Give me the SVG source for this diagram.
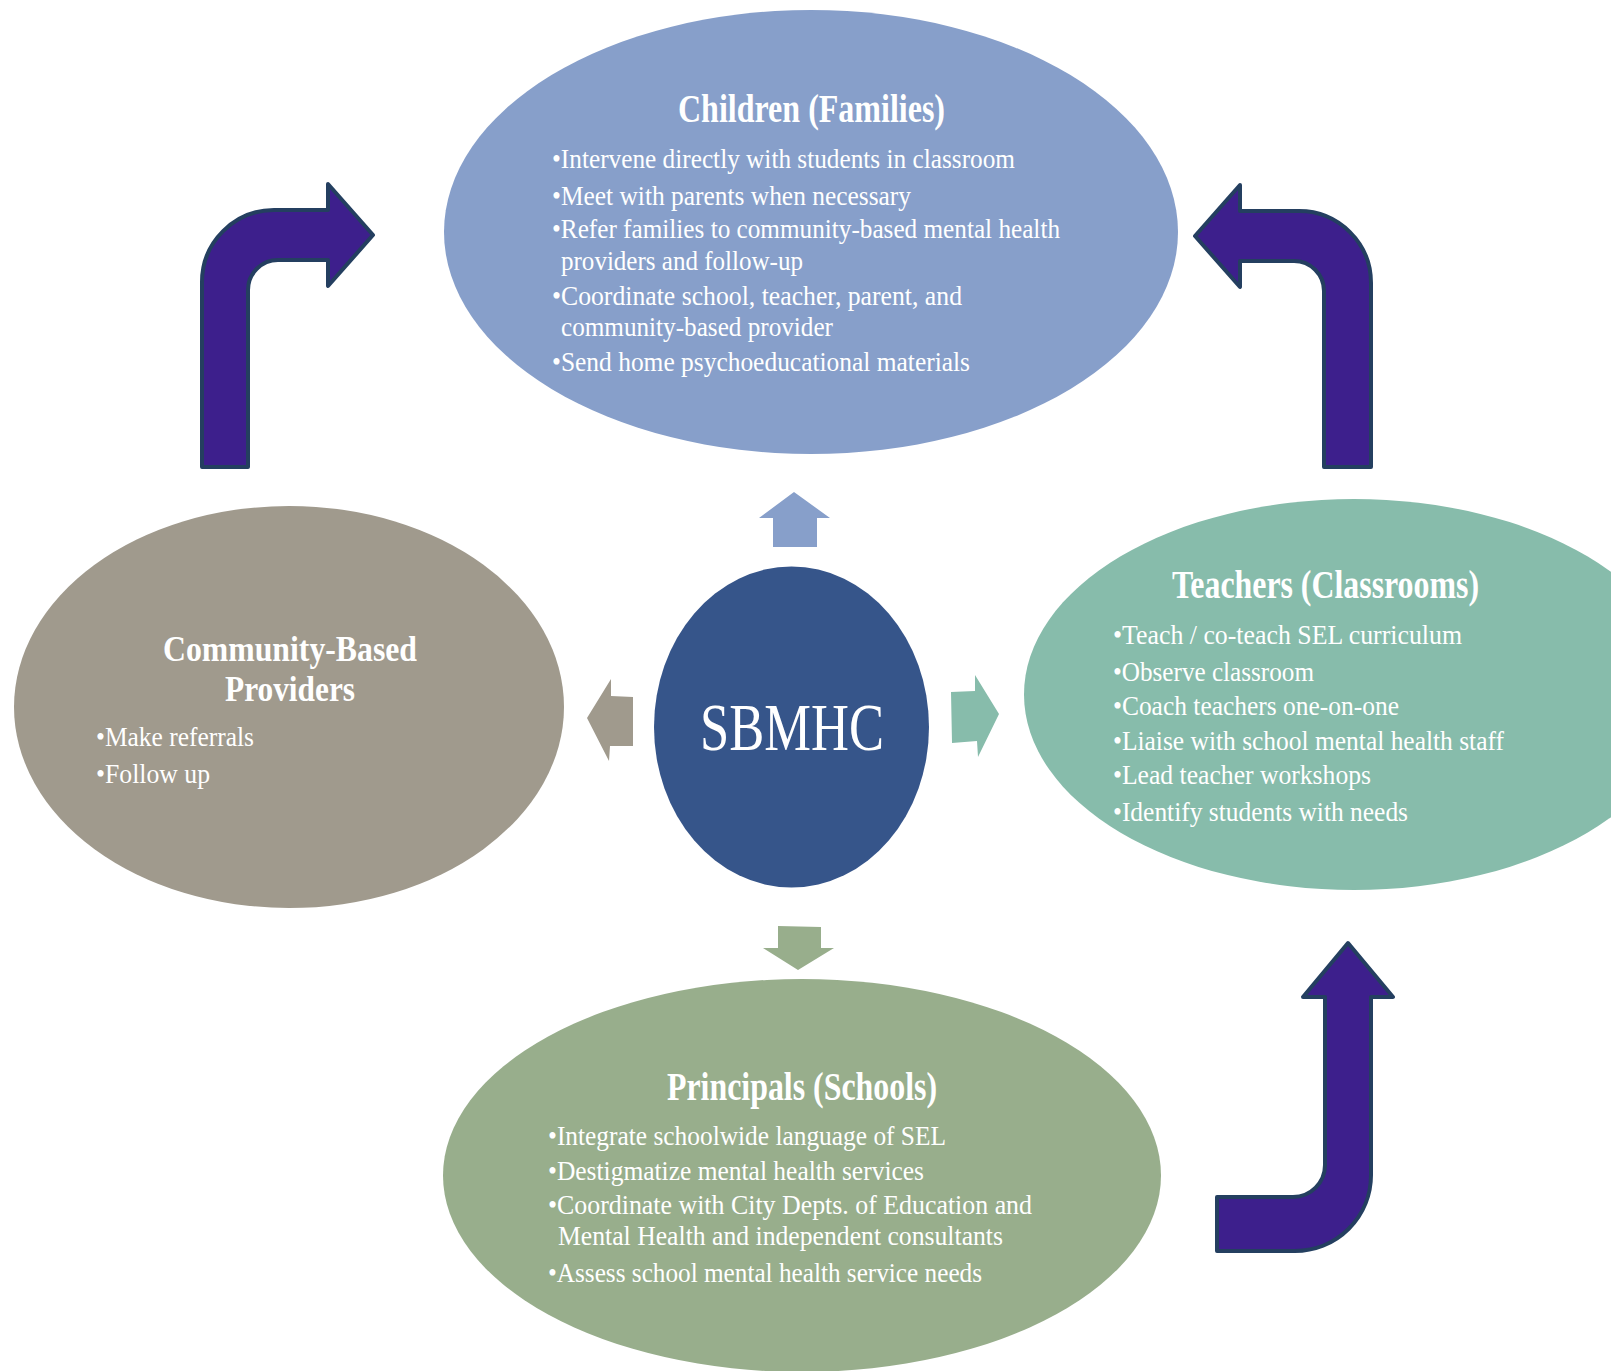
<svg xmlns="http://www.w3.org/2000/svg" width="1611" height="1371" viewBox="0 0 1611 1371">
  <style>
    .title { font-family: "Liberation Serif", "Times New Roman", serif; font-weight: bold; font-size: 39px; fill: #ffffff; }
    .title.tight { font-size: 35px; }
    .item { font-family: "Liberation Serif", "Times New Roman", serif; font-size: 27px; fill: #ffffff; }
    .hub { font-family: "Liberation Serif", "Times New Roman", serif; font-size: 68px; fill: #ffffff; }
    .bend { fill: #3d1f8c; stroke: #243f60; stroke-width: 4; stroke-linejoin: round; }
  </style>
  <rect width="1611" height="1371" fill="#ffffff"/>

  <!-- Children (Families) -->
  <g id="children">
    <ellipse cx="811" cy="232" rx="367" ry="222" fill="#879fca"/>
    <text class="title" x="678" y="122" textLength="267" lengthAdjust="spacingAndGlyphs">Children (Families)</text>
    <text class="item" x="552" y="168" textLength="463" lengthAdjust="spacingAndGlyphs">•Intervene directly with students in classroom</text>
    <text class="item" x="552" y="205" textLength="359" lengthAdjust="spacingAndGlyphs">•Meet with parents when necessary</text>
    <text class="item" x="552" y="238" textLength="508" lengthAdjust="spacingAndGlyphs">•Refer families to community-based mental health</text>
    <text class="item" x="561" y="270" textLength="242" lengthAdjust="spacingAndGlyphs">providers and follow-up</text>
    <text class="item" x="552" y="305" textLength="410" lengthAdjust="spacingAndGlyphs">•Coordinate school, teacher, parent, and</text>
    <text class="item" x="561" y="336" textLength="272" lengthAdjust="spacingAndGlyphs">community-based provider</text>
    <text class="item" x="552" y="371" textLength="418" lengthAdjust="spacingAndGlyphs">•Send home psychoeducational materials</text>
  </g>

  <!-- Community-Based Providers -->
  <g id="community">
    <ellipse cx="289" cy="707" rx="275" ry="201" fill="#a09a8d"/>
    <text class="title tight" x="163" y="661" textLength="254" lengthAdjust="spacingAndGlyphs">Community-Based</text>
    <text class="title tight" x="225" y="701" textLength="130" lengthAdjust="spacingAndGlyphs">Providers</text>
    <text class="item" x="96" y="746" textLength="158" lengthAdjust="spacingAndGlyphs">•Make referrals</text>
    <text class="item" x="96" y="783" textLength="114" lengthAdjust="spacingAndGlyphs">•Follow up</text>
  </g>

  <!-- Teachers (Classrooms) -->
  <g id="teachers">
    <ellipse cx="1354" cy="694.5" rx="330" ry="195.5" fill="#87bcab"/>
    <text class="title" x="1172" y="598" textLength="307" lengthAdjust="spacingAndGlyphs">Teachers (Classrooms)</text>
    <text class="item" x="1113" y="644" textLength="349" lengthAdjust="spacingAndGlyphs">•Teach / co-teach SEL curriculum</text>
    <text class="item" x="1113" y="681" textLength="201" lengthAdjust="spacingAndGlyphs">•Observe classroom</text>
    <text class="item" x="1113" y="715" textLength="286" lengthAdjust="spacingAndGlyphs">•Coach teachers one-on-one</text>
    <text class="item" x="1113" y="750" textLength="391" lengthAdjust="spacingAndGlyphs">•Liaise with school mental health staff</text>
    <text class="item" x="1113" y="784" textLength="258" lengthAdjust="spacingAndGlyphs">•Lead teacher workshops</text>
    <text class="item" x="1113" y="821" textLength="295" lengthAdjust="spacingAndGlyphs">•Identify students with needs</text>
  </g>

  <!-- Principals (Schools) -->
  <g id="principals">
    <ellipse cx="802" cy="1175.5" rx="359" ry="196.5" fill="#98ae8c"/>
    <text class="title" x="667" y="1100" textLength="270" lengthAdjust="spacingAndGlyphs">Principals (Schools)</text>
    <text class="item" x="548" y="1145" textLength="398" lengthAdjust="spacingAndGlyphs">•Integrate schoolwide language of SEL</text>
    <text class="item" x="548" y="1180" textLength="376" lengthAdjust="spacingAndGlyphs">•Destigmatize mental health services</text>
    <text class="item" x="548" y="1214" textLength="484" lengthAdjust="spacingAndGlyphs">•Coordinate with City Depts. of Education and</text>
    <text class="item" x="558" y="1245" textLength="445" lengthAdjust="spacingAndGlyphs">Mental Health and independent consultants</text>
    <text class="item" x="548" y="1282" textLength="434" lengthAdjust="spacingAndGlyphs">•Assess school mental health service needs</text>
  </g>

  <!-- SBMHC hub -->
  <g id="sbmhc">
    <ellipse cx="791.5" cy="727" rx="137.5" ry="160.5" fill="#36558a"/>
    <text class="hub" x="700" y="750" textLength="184" lengthAdjust="spacingAndGlyphs">SBMHC</text>
  </g>

  <!-- Connectors: block arrows out of the hub and the bent cycle arrows -->
  <g id="connectors">
    <path id="hub-to-children" d="M794,492 L830,518 L817,518 L817,547 L773,547 L773,518 L759,518 Z" fill="#879fca"/>
    <path id="hub-to-community" d="M587,718 L611,679 L611,696 L633,697 L633,746 L610,746 L609,761 Z" fill="#a09a8d"/>
    <path id="hub-to-teachers" d="M999,714 L975,675 L975,691 L951,692 L952,743 L977,741 L978,757 Z" fill="#87bcab"/>
    <path id="hub-to-principals" d="M778,926 L821,927 L821,948 L834,948 L798,970 L763,948 L778,948 Z" fill="#98ae8c"/>

    <path id="community-to-children" class="bend" d="M202,467 L202,282 A72,72 0 0 1 274,210 L328,210 L328,184 L373,235 L328,286 L328,260 L278,260 A30,30 0 0 0 248,290 L248,467 Z"/>
    <path id="teachers-to-children" class="bend" d="M1371,467 L1371,283 A72,72 0 0 0 1299,211 L1240,211 L1240,185 L1195,236 L1240,287 L1240,261 L1294,261 A30,30 0 0 1 1324,291 L1324,467 Z"/>
    <path id="principals-to-teachers" class="bend" d="M1348,943 L1393,997 L1371,997 L1371,1175 A76,76 0 0 1 1295,1251 L1217,1251 L1217,1197 L1293,1197 A32,32 0 0 0 1325,1165 L1325,997 L1303,997 Z"/>
  </g>
</svg>
